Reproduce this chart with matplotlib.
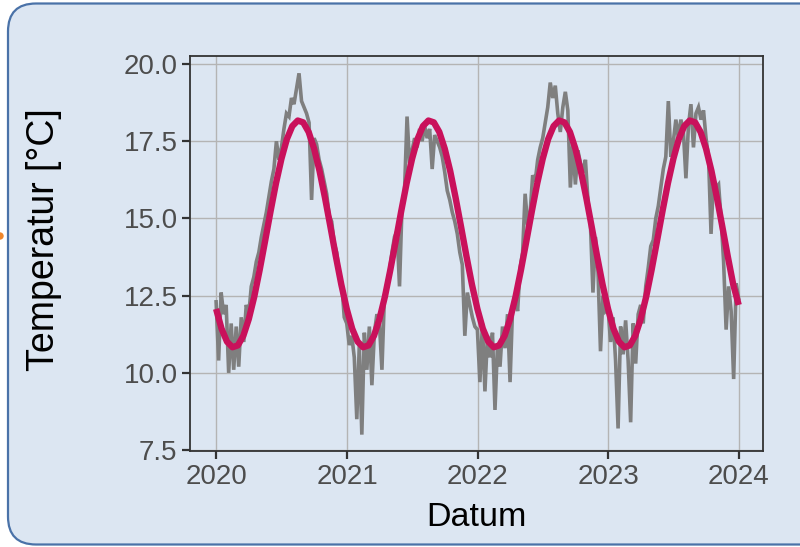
import matplotlib
matplotlib.use("Agg")
import matplotlib.pyplot as plt
from matplotlib.patches import FancyBboxPatch, Circle
import pandas as pd

plt.rcParams['font.family'] = ['Liberation Sans', 'DejaVu Sans']

# ---- data (weekly readings) ----
temp_2020 = [12.3, 10.4, 12.6, 11.9, 12.2, 10.0, 11.6, 10.1, 11.5, 10.2,
             11.8, 11.0, 12.2, 11.9, 12.8, 13.1, 13.6, 13.9, 14.4, 14.8,
             15.2, 15.7, 16.2, 16.6, 17.5, 16.9, 17.3, 17.9, 18.4, 18.3,
             18.9, 18.7, 19.2, 19.7, 18.8, 18.6, 18.4, 18.1, 15.6, 17.6,
             17.4, 16.9, 16.6, 16.2, 15.8, 15.1, 14.9, 14.2, 13.9, 13.2,
             12.9, 11.8]
temp_2021 = [11.6, 10.9, 11.2, 10.5, 8.5, 10.9, 8.0, 11.3, 10.1, 11.5,
             9.6, 11.3, 11.9, 11.6, 10.1, 12.5, 12.9, 13.3, 13.9, 14.4,
             14.6, 12.8, 15.4, 15.9, 18.3, 16.8, 17.2, 17.6, 17.3, 17.9,
             17.5, 18.0, 17.6, 17.9, 16.6, 17.7, 17.5, 17.3, 17.0, 16.5,
             15.9, 15.6, 15.2, 14.9, 14.5, 13.9, 13.5, 11.2, 12.6, 12.2,
             11.8, 11.5]
temp_2022 = [11.4, 9.7, 11.6, 9.4, 11.2, 10.5, 11.3, 8.8, 10.9, 10.2,
             11.5, 10.8, 11.9, 9.7, 12.1, 12.4, 12.0, 13.4, 13.9, 15.8,
             14.8, 15.2, 16.4, 16.2, 16.9, 17.3, 17.6, 18.1, 18.6, 19.4,
             18.9, 19.3, 18.4, 17.8, 18.6, 19.1, 18.5, 16.0, 17.4, 16.1,
             17.2, 16.8, 16.5, 16.9, 15.6, 14.8, 12.6, 14.4, 13.3, 10.7,
             12.5, 12.0]
temp_2023 = [12.1, 11.0, 11.8, 10.4, 8.2, 11.5, 10.6, 11.7, 10.4, 8.4,
             11.6, 10.3, 11.9, 12.2, 11.6, 12.8, 13.4, 14.1, 14.3, 15.0,
             15.4, 16.0, 16.6, 17.0, 18.8, 17.0, 17.5, 18.2, 17.6, 18.2,
             17.8, 16.3, 18.0, 18.7, 17.3, 18.4, 18.6, 18.2, 18.5, 17.6,
             17.0, 14.5, 16.3, 16.0, 16.1, 15.0, 13.6, 11.4, 12.8, 12.0,
             9.8, 12.9, 12.4]

# fitted seasonal curve, half-monthly values
fit_values = [12.07, 11.43, 11.01, 10.83, 10.89, 11.20, 11.74, 12.46, 13.33, 14.27,
              15.23, 16.14, 16.93, 17.57, 17.99, 18.17, 18.11, 17.80, 17.26, 16.54,
              15.67, 14.73, 13.77, 12.86,
              12.07, 11.43, 11.01, 10.83, 10.89, 11.20, 11.74, 12.46, 13.33, 14.27,
              15.23, 16.14, 16.93, 17.57, 17.99, 18.17, 18.11, 17.80, 17.26, 16.54,
              15.67, 14.73, 13.77, 12.86,
              12.07, 11.43, 11.01, 10.83, 10.89, 11.20, 11.74, 12.46, 13.33, 14.27,
              15.23, 16.14, 16.93, 17.57, 17.99, 18.17, 18.11, 17.80, 17.26, 16.54,
              15.67, 14.73, 13.77, 12.86,
              12.07, 11.43, 11.01, 10.83, 10.89, 11.20, 11.74, 12.46, 13.33, 14.27,
              15.23, 16.14, 16.93, 17.57, 17.99, 18.17, 18.11, 17.80, 17.26, 16.54,
              15.67, 14.73, 13.77, 12.86, 12.20]

year_ticks = [2020, 2021, 2022, 2023, 2024]
y_ticks = [7.5, 10.0, 12.5, 15.0, 17.5, 20.0]

temps = temp_2020 + temp_2021 + temp_2022 + temp_2023
temp_dates = pd.date_range("2020-01-01", "2024-01-01", periods=len(temps))
fit_dates = pd.date_range("2020-01-01", "2024-01-01", periods=len(fit_values))

BG = "#dce6f2"
W, H = 800, 547

fig = plt.figure(figsize=(8, 5.47), dpi=100, facecolor="white")

# background card
bg_ax = fig.add_axes([0, 0, 1, 1], zorder=-10)
bg_ax.set_xlim(0, W)
bg_ax.set_ylim(0, H)
bg_ax.axis("off")
card = FancyBboxPatch((8, 2.5), 840, 541, boxstyle="round,pad=0,rounding_size=28",
                      facecolor=BG, edgecolor="#4a72a8", linewidth=1.6)
bg_ax.add_patch(card)
bg_ax.add_patch(Circle((0, 311), 3, color="#f0862a", clip_on=True))

ax = fig.add_axes([190 / W, (H - 451) / H, 573 / W, 395 / H])
ax.set_facecolor(BG)
ax.plot(temp_dates, temps, color="#7f7f7f", linewidth=2.6, zorder=2,
        solid_joinstyle="miter")
ax.plot(fit_dates, fit_values, color="#c9115b", linewidth=4.6, zorder=3,
        solid_capstyle="butt")

ax.set_ylim(7.47, 20.26)
ax.set_xlim(pd.Timestamp("2019-10-20"), pd.Timestamp("2024-03-09"))
ax.set_yticks(y_ticks)
ax.set_yticklabels([f"{v:.1f}" for v in y_ticks])
ax.set_xticks([pd.Timestamp(f"{y}-01-01") for y in year_ticks])
ax.set_xticklabels([str(y) for y in year_ticks])

ax.grid(True, color="#b4b4b4", linewidth=1.0, zorder=0)
ax.set_axisbelow(True)
for s in ax.spines.values():
    s.set_color("#333333")
    s.set_linewidth(1.3)
ax.tick_params(direction="out", length=6, width=1.6, color="#333333",
               labelsize=20, labelcolor="#4d4d4d", pad=3)

fig.text(476 / W, 1 - 517 / H, "Datum", ha="center", va="center",
         fontsize=24.5, color="black")
fig.text(44 / W, 1 - 240 / H, "Temperatur [°C]", ha="center", va="center",
         rotation=90, fontsize=27, color="black")

fig.savefig("out.png", dpi=100, facecolor="white")
